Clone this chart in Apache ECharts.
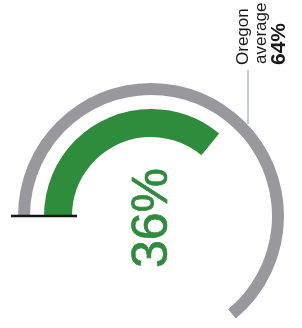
<!DOCTYPE html>
<html>
<head>
<meta charset="utf-8">
<script src="https://cdn.jsdelivr.net/npm/echarts@6/dist/echarts.min.js"></script>
<style>
  html, body { margin: 0; padding: 0; background: #fff; }
  #chart { width: 302px; height: 328px; }
</style>
</head>
<body>
<div id="chart"></div>
<script>
// values (percent of full circle)
var localValue = 36;
var oregonAverage = 64;
var labelLines = ["Oregon", "average", "64%"];
var valueLabel = "36%";

var green = "#2e8c3c";
var gray = "#99999d";

var chart = echarts.init(document.getElementById("chart"));

function ring(value, radius, color) {
  return {
    type: "pie",
    center: [151, 216],
    radius: radius,
    startAngle: 180,
    clockwise: true,
    silent: true,
    label: { show: false },
    labelLine: { show: false },
    emphasis: { disabled: true },
    data: [
      { value: value, itemStyle: { color: color } },
      { value: 100 - value, itemStyle: { color: "transparent" } }
    ]
  };
}

chart.setOption({
  backgroundColor: "#ffffff",
  animation: false,
  series: [
    ring(oregonAverage, [121, 133], gray),
    ring(localValue, [79, 107], green)
  ],
  graphic: [
    {
      type: "line",
      z: 10,
      shape: { x1: 11, y1: 216, x2: 77, y2: 216 },
      style: { stroke: "#151515", lineWidth: 2.5 }
    },
    {
      type: "line",
      z: 10,
      shape: { x1: 248, y1: 70, x2: 248, y2: 124 },
      style: { stroke: "#8d9cb0", lineWidth: 1 }
    },
    {
      type: "text",
      x: 243, y: 65, rotation: Math.PI / 2,
      style: { text: labelLines[0], fill: "#1a1a1a", font: "17px 'Liberation Sans', Arial, sans-serif", align: "left", verticalAlign: "middle" }
    },
    {
      type: "text",
      x: 261, y: 64, rotation: Math.PI / 2,
      style: { text: labelLines[1], fill: "#1a1a1a", font: "17px 'Liberation Sans', Arial, sans-serif", align: "left", verticalAlign: "middle" }
    },
    {
      type: "text",
      x: 279, y: 65, rotation: Math.PI / 2,
      style: { text: labelLines[2], fill: "#1a1a1a", font: "bold 21px 'Liberation Sans', Arial, sans-serif", align: "left", verticalAlign: "middle" }
    },
    {
      type: "text",
      x: 153, y: 218, rotation: Math.PI / 2,
      style: { text: valueLabel, fill: green, stroke: "#26742f", lineWidth: 0.6, font: "50px 'Liberation Sans', Arial, sans-serif", align: "center", verticalAlign: "middle" }
    }
  ]
});
</script>
</body>
</html>
